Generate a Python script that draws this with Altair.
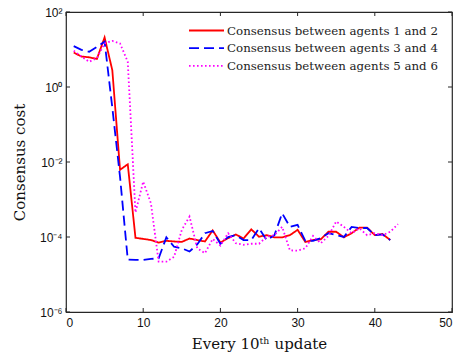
import altair as alt
import pandas as pd

# Iteration index (every 10th update)
x_red = list(range(1, 43))
x_blue = list(range(1, 43))
x_mag = list(range(1, 44))

# Consensus cost for each agent pair
cost_12 = [8.3, 6.5, 6.2, 5.6, 21, 2.8, 6.2e-3, 8.7e-3, 9.5e-5, 8.9e-5,
           8.3e-5, 7.1e-5, 7.9e-5, 7.6e-5, 7.4e-5, 9.1e-5, 8.3e-5, 7.6e-5, 1.5e-4, 7.1e-5,
           9.3e-5, 1.17e-4, 9.1e-5, 1.6e-4, 1.02e-4, 1.12e-4, 9.8e-5, 9.8e-5, 1.12e-4, 1.55e-4,
           7.4e-5, 8.3e-5, 8.7e-5, 1.38e-4, 1.38e-4, 9.8e-5, 1.26e-4, 1.78e-4, 1.78e-4, 1.12e-4,
           1.2e-4, 8.3e-5]
cost_34 = [12.3, 9.8, 8.7, 11.7, 16.2, 0.28, 4.0e-3, 2.5e-5, 2.45e-5, 2.45e-5,
           2.6e-5, 2.7e-5, 9.8e-5, 5.5e-5, 5.0e-5, 4.1e-5, 6.3e-5, 1.26e-4, 1.45e-4, 6.6e-5,
           1.0e-4, 1.12e-4, 8.3e-5, 8.3e-5, 1.7e-4, 8.3e-5, 1.12e-4, 4.3e-4, 1.86e-4, 2.1e-4,
           7.9e-5, 7.9e-5, 9.3e-5, 1.26e-4, 1.12e-4, 1.0e-4, 1.86e-4, 1.74e-4, 1.74e-4, 1.12e-4,
           1.17e-4, 8.3e-5]
cost_56 = [9.3, 6.5, 4.7, 5.9, 14.5, 17, 14.5, 4.7, 4.5e-4, 3.0e-3,
           7.9e-4, 2.2e-5, 2.2e-5, 2.95e-5, 1.55e-4, 3.5e-4, 5.0e-5, 3.7e-5, 8.9e-5, 5.9e-5,
           1.26e-4, 6.8e-5, 6.2e-5, 6.6e-5, 6.6e-5, 1.02e-4, 1.12e-4, 1.86e-4, 4.4e-5, 4.3e-5,
           5.0e-5, 1.07e-4, 6.8e-5, 1.07e-4, 2.6e-4, 1.86e-4, 1.26e-4, 1.7e-4, 1.12e-4, 1.26e-4,
           1.12e-4, 1.38e-4, 2.2e-4]

series_names = ["Consensus between agents 1 and 2",
                "Consensus between agents 3 and 4",
                "Consensus between agents 5 and 6"]
series_colors = ["#ff0000", "#0000ff", "#ff00ff"]
series_dashes = [[1, 0], [10, 5], [1.6, 2.4]]

x_ticks = [0, 10, 20, 30, 40, 50]
y_ticks = [1e-6, 1e-4, 1e-2, 1, 1e2]
y_tick_labels = ["10⁻⁶", "10⁻⁴", "10⁻²", "10⁰", "10²"]

df = pd.concat([
    pd.DataFrame({"t": x_red, "cost": cost_12, "series": series_names[0]}),
    pd.DataFrame({"t": x_blue, "cost": cost_34, "series": series_names[1]}),
    pd.DataFrame({"t": x_mag, "cost": cost_56, "series": series_names[2]}),
])

W, H = 386, 300
serif = "DejaVu Serif"
sans = "Liberation Sans"

x_scale = alt.Scale(domain=[0, 50], nice=False)
y_scale = alt.Scale(type="log", domain=[1e-6, 1e2], nice=False)

label_expr = " : ".join(
    f"datum.value < {v * 1.5} ? '{lab}'" for v, lab in zip(y_ticks, y_tick_labels)
) + " : ''"

lines = alt.Chart(df).mark_line(strokeWidth=1.8, clip=True).encode(
    x=alt.X("t:Q", scale=x_scale,
            axis=alt.Axis(values=x_ticks, title="Every 10ᵗʰ update", grid=False,
                          ticks=False, domain=False, labelPadding=5,
                          titleFont=serif, titleFontSize=15, titleFontWeight="normal",
                          titlePadding=8)),
    y=alt.Y("cost:Q", scale=y_scale,
            axis=alt.Axis(values=y_ticks, labelExpr=label_expr, title="Consensus cost",
                          grid=False, ticks=False, domain=False, labelPadding=4,
                          titleFont=serif, titleFontSize=15, titleFontWeight="normal",
                          titlePadding=12)),
    color=alt.Color("series:N", scale=alt.Scale(domain=series_names, range=series_colors),
                    legend=alt.Legend(title=None, orient="none", legendX=122, legendY=11,
                                      symbolType="stroke", symbolSize=1225,
                                      symbolStrokeWidth=1.8, labelFont=serif,
                                      labelFontSize=11.8, labelColor="#222", labelLimit=400,
                                      labelOffset=2, clipHeight=15, rowPadding=2.7,
                                      padding=0)),
    strokeDash=alt.StrokeDash("series:N",
                              scale=alt.Scale(domain=series_names, range=series_dashes),
                              legend=None),
    order="t:Q",
)

tick_x = pd.DataFrame({"t": x_ticks})
tick_y = pd.DataFrame({"cost": y_ticks})
tick_color = "#262626"

ticks_bottom = alt.Chart(tick_x).mark_rule(color=tick_color, strokeWidth=1).encode(
    x=alt.X("t:Q", scale=x_scale), y=alt.value(H), y2=alt.value(H - 4))
ticks_top = alt.Chart(tick_x).mark_rule(color=tick_color, strokeWidth=1).encode(
    x=alt.X("t:Q", scale=x_scale), y=alt.value(0), y2=alt.value(4))
ticks_left = alt.Chart(tick_y).mark_rule(color=tick_color, strokeWidth=1).encode(
    y=alt.Y("cost:Q", scale=y_scale), x=alt.value(0), x2=alt.value(4))
ticks_right = alt.Chart(tick_y).mark_rule(color=tick_color, strokeWidth=1).encode(
    y=alt.Y("cost:Q", scale=y_scale), x=alt.value(W), x2=alt.value(W - 4))

chart = alt.layer(lines, ticks_bottom, ticks_top, ticks_left, ticks_right).properties(
    width=W, height=H,
    autosize=alt.AutoSizeParams(type="none"),
    padding={"left": 66, "top": 12, "right": 14, "bottom": 49},
    background="white",
).configure_view(
    stroke=tick_color, strokeWidth=1.2
).configure_axis(
    labelFont=sans, labelFontSize=12, labelColor="#111", titleColor="#111"
)

chart.save("out.html", embed_options={"renderer": "svg", "actions": False})
